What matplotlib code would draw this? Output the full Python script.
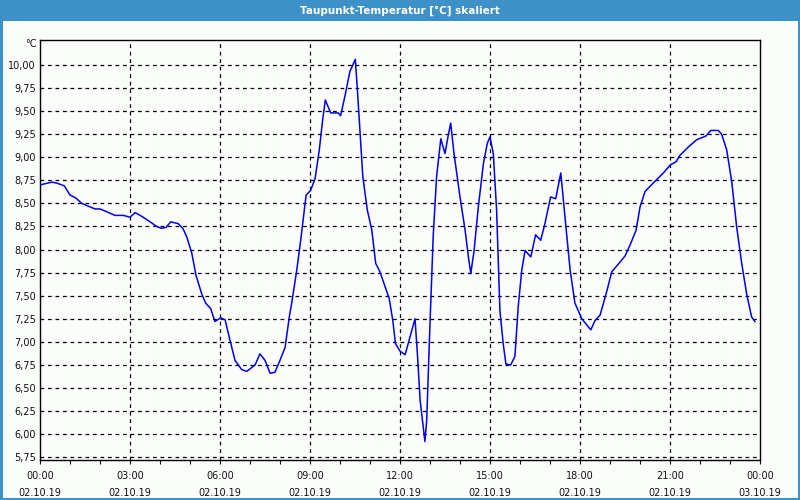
import matplotlib
matplotlib.use("Agg")
from matplotlib import pyplot as plt
from matplotlib.patches import Rectangle

# Taupunkt readings, time in hours since 02.10.19 00:00
hours = [
    0.0, 0.39, 0.56, 0.81, 1.0, 1.19, 1.39, 1.61, 1.83, 2.0,
    2.22, 2.5, 2.78, 3.0, 3.17, 3.39, 3.67, 3.89, 4.05, 4.2,
    4.36, 4.61, 4.76, 4.89, 5.06, 5.2, 5.39, 5.52, 5.69, 5.83,
    6.02, 6.17, 6.33, 6.5, 6.72, 6.89, 7.17, 7.33, 7.5, 7.67,
    7.83, 8.0, 8.17, 8.31, 8.39, 8.56, 8.69, 8.78, 8.87, 9.02,
    9.17, 9.31, 9.42, 9.51, 9.69, 9.94, 10.02, 10.17, 10.33, 10.51,
    10.58, 10.67, 10.76, 10.91, 11.06, 11.19, 11.33, 11.5, 11.64, 11.76,
    11.85, 12.0, 12.17, 12.5, 12.58, 12.67, 12.83, 12.89, 13.0, 13.11,
    13.22, 13.36, 13.5, 13.61, 13.69, 13.8, 14.0, 14.17, 14.28, 14.36,
    14.47, 14.61, 14.78, 14.91, 15.0, 15.11, 15.22, 15.33, 15.44, 15.53,
    15.69, 15.83, 15.94, 16.06, 16.17, 16.36, 16.52, 16.69, 16.83, 17.02,
    17.19, 17.36, 17.5, 17.67, 17.83, 18.06, 18.36, 18.5, 18.67, 18.87,
    19.06, 19.22, 19.5, 19.67, 19.87, 20.0, 20.17, 20.44, 20.78, 21.02,
    21.2, 21.33, 21.61, 21.89, 22.2, 22.36, 22.61, 22.72, 22.89, 23.06,
    23.22, 23.39, 23.56, 23.72, 23.83,
]
taupunkt = [
    8.70, 8.73, 8.72, 8.69, 8.59, 8.56, 8.50, 8.47, 8.44, 8.44,
    8.41, 8.37, 8.37, 8.35, 8.40, 8.36, 8.30, 8.25, 8.23, 8.24,
    8.30, 8.28, 8.23, 8.14, 7.96, 7.72, 7.52, 7.42, 7.36, 7.22,
    7.26, 7.24, 7.02, 6.80, 6.70, 6.68, 6.75, 6.87, 6.80, 6.66,
    6.67, 6.80, 6.94, 7.27, 7.42, 7.78, 8.10, 8.35, 8.59, 8.64,
    8.77, 9.08, 9.40, 9.62, 9.48, 9.48, 9.45, 9.67, 9.93, 10.06,
    9.73, 9.26, 8.79, 8.43, 8.21, 7.85, 7.76, 7.60, 7.47, 7.23,
    6.98, 6.90, 6.86, 7.25, 6.87, 6.37, 5.92, 6.15, 7.20, 8.17,
    8.79, 9.20, 9.04, 9.24, 9.37, 9.04, 8.57, 8.21, 7.92, 7.74,
    7.99, 8.46, 8.93, 9.15, 9.22, 9.04, 8.43, 7.34, 6.98, 6.76,
    6.75, 6.84, 7.38, 7.78, 7.99, 7.92, 8.16, 8.10, 8.28, 8.57,
    8.55, 8.83, 8.35, 7.78, 7.42, 7.25, 7.13, 7.23, 7.29, 7.52,
    7.76, 7.82, 7.93, 8.05, 8.21, 8.46, 8.63, 8.72, 8.83, 8.92,
    8.95, 9.02, 9.11, 9.19, 9.23, 9.29, 9.29, 9.25, 9.08, 8.73,
    8.25, 7.85, 7.51, 7.27, 7.22,
]

x_ticks = [0, 3, 6, 9, 12, 15, 18, 21, 24]
x_labels = [
    "00:00\n02.10.19", "03:00\n02.10.19", "06:00\n02.10.19",
    "09:00\n02.10.19", "12:00\n02.10.19", "15:00\n02.10.19",
    "18:00\n02.10.19", "21:00\n02.10.19", "00:00\n03.10.19",
]
y_ticks = [5.75, 6.0, 6.25, 6.5, 6.75, 7.0, 7.25, 7.5, 7.75,
           8.0, 8.25, 8.5, 8.75, 9.0, 9.25, 9.5, 9.75, 10.0]

BG = "#fbfdfb"
BAR = "#3d91c8"

plt.rcParams["font.family"] = ["DejaVu Sans"]

fig = plt.figure(figsize=(8, 5), dpi=100, facecolor=BG,
                 edgecolor=BAR, linewidth=2.5)

# title bar across the top
fig.patches.append(Rectangle((0, 0.958), 1, 0.042, transform=fig.transFigure,
                             facecolor=BAR, edgecolor="none", zorder=0))
fig.text(0.5, 0.979, "Taupunkt-Temperatur [°C] skaliert", color="white",
         ha="center", va="center", fontsize=7.5, fontweight="semibold")

ax = fig.add_axes([0.05, 0.08, 0.90, 0.84])
ax.set_facecolor(BG)
ax.plot(hours, taupunkt, color="#0000ee", linewidth=1.1, zorder=3)

ax.set_xlim(0, 24)
ax.set_ylim(5.72, 10.27)

ax.set_xticks(x_ticks)
ax.set_xticklabels(x_labels)
ax.set_xticks(range(0, 25), minor=True)
ax.set_yticks(y_ticks)
ax.set_yticklabels([f"{v:.2f}".replace(".", ",") for v in y_ticks])

ax.tick_params(axis="x", which="both", direction="out", length=3,
               width=0.8, pad=5, labelsize=7, colors="#111111")
ax.tick_params(axis="y", length=0, pad=3, labelsize=7, colors="#111111")
for lbl in ax.get_xticklabels():
    lbl.set_linespacing(1.9)

# dashed grid, vertical lines only at the inner 3 hour marks
for v in y_ticks:
    ax.axhline(v, color="black", linestyle=(0, (3, 3)), linewidth=0.9, zorder=1)
for h in x_ticks[1:-1]:
    ax.axvline(h, color="black", linestyle=(0, (3, 3)), linewidth=0.9, zorder=1)

for side in ax.spines.values():
    side.set_color("black")
    side.set_linewidth(1)

ax.text(-0.004, 0.99, "°C", transform=ax.transAxes, ha="right",
        va="center", fontsize=7, color="#111111")

fig.savefig("out.png", dpi=100, facecolor=BG, edgecolor=BAR)
